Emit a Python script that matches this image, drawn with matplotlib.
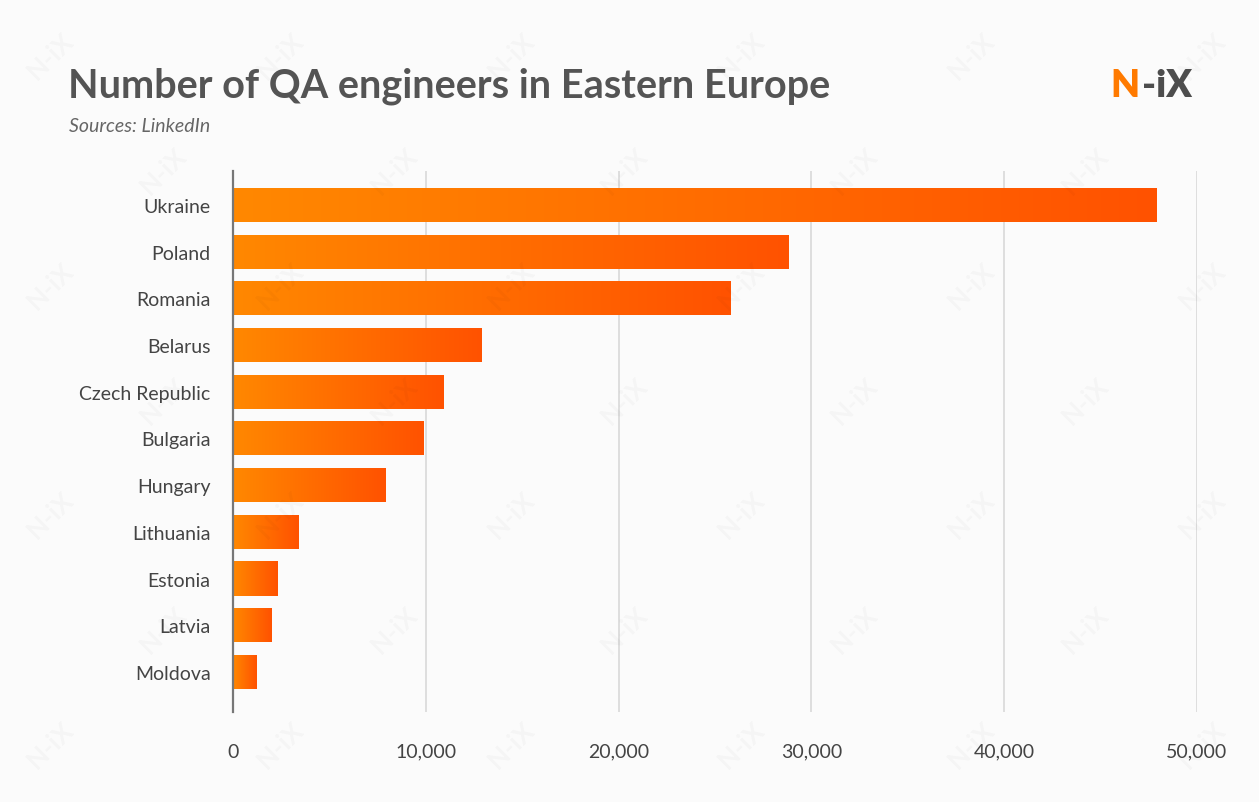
import matplotlib
matplotlib.use('Agg')
import matplotlib.pyplot as plt
from matplotlib.colors import LinearSegmentedColormap
from matplotlib.ticker import FuncFormatter
import numpy as np

plt.rcParams['font.family'] = ['Lato', 'DejaVu Sans']

# data
countries = ['Ukraine', 'Poland', 'Romania', 'Belarus', 'Czech Republic', 'Bulgaria',
             'Hungary', 'Lithuania', 'Estonia', 'Latvia', 'Moldova']
engineers = [47900, 28800, 25800, 12900, 10900, 9900, 7900, 3400, 2300, 2000, 1200]
x_ticks = [0, 10000, 20000, 30000, 40000, 50000]

bg = '#fbfbfb'
grad = LinearSegmentedColormap.from_list('nix', ['#ff8800', '#ff5200'])

fig = plt.figure(figsize=(12.59, 8.03), dpi=100, facecolor=bg)

# faint watermark grid
for row, yy in enumerate(np.arange(0.93, 0.0, -0.143)):
    shift = 0.0 if row % 2 == 0 else 0.09
    for xx in np.arange(0.04 + shift, 1.02, 0.183):
        fig.text(xx, yy, 'N-iX', rotation=45, fontsize=19, fontweight='bold',
                 color='#000000', alpha=0.028, ha='center', va='center', zorder=0)

ax = fig.add_axes([0.185, 0.112, 0.7657, 0.674])
ax.set_facecolor('none')

ypos = np.arange(len(countries))
bars = ax.barh(ypos, engineers, height=0.73, color='none', edgecolor='none', zorder=3)
gradient = np.linspace(0, 1, 256).reshape(1, -1)
for b in bars:
    x0, y0 = b.get_x(), b.get_y()
    w, h = b.get_width(), b.get_height()
    im = ax.imshow(gradient, cmap=grad, aspect='auto', extent=[x0, x0 + w, y0 + h, y0],
                   zorder=3, interpolation='bilinear')
    im.set_clip_path(b)

ax.set_xlim(0, 50000)
ax.set_ylim(10.86, -0.73)
ax.set_xticks(x_ticks)
ax.xaxis.set_major_formatter(FuncFormatter(lambda v, p: f'{int(v):,}'))
ax.set_yticks(ypos)
ax.set_yticklabels(countries)

ax.grid(axis='x', color='#d9d9d9', linewidth=1.2, zorder=0)
ax.grid(axis='y', visible=False)
for s in ['top', 'right', 'bottom']:
    ax.spines[s].set_visible(False)
ax.spines['left'].set_color('#777777')
ax.spines['left'].set_linewidth(1.6)
ax.spines['left'].set_zorder(4)
ax.tick_params(axis='both', length=0, labelsize=14, colors='#444444')
ax.tick_params(axis='x', pad=22)
ax.tick_params(axis='y', pad=16)

fig.text(0.054, 0.893, 'Number of QA engineers in Eastern Europe', fontsize=28.5,
         fontweight='bold', color='#545454', ha='left', va='center')
fig.text(0.055, 0.842, 'Sources: LinkedIn', fontsize=14, style='italic',
         color='#666666', ha='left', va='center')

# logo
fig.text(0.882, 0.893, 'N', fontsize=27, fontweight='heavy', color='#ff7a00',
         ha='left', va='center')
fig.text(0.907, 0.893, '-iX', fontsize=27, fontweight='heavy', color='#4d4d4d',
         ha='left', va='center')

fig.savefig('out.png', dpi=100, facecolor=bg)
